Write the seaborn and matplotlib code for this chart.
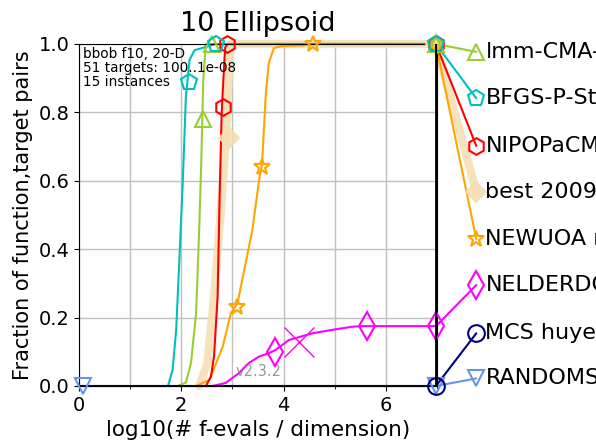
import matplotlib
matplotlib.use("Agg")
import matplotlib.pyplot as plt
import numpy as np
import pandas as pd
import seaborn as sns

sns.set_style("ticks")
plt.rcParams["font.family"] = ["DejaVu Sans"]
plt.rcParams["text.color"] = "black"
plt.rcParams["axes.labelcolor"] = "black"
plt.rcParams["xtick.color"] = "black"
plt.rcParams["ytick.color"] = "black"

# ECDF curves: log10(#f-evals / dim) vs. fraction of (function, target) pairs solved
bfgs_x = [1.74, 1.83, 1.90, 1.96, 2.03, 2.09, 2.16, 2.26, 2.45, 2.60, 2.65, 7.0]
bfgs_y = [0.0, 0.047, 0.164, 0.36, 0.60, 0.846, 0.953, 0.982, 0.99, 0.997, 1.0, 1.0]

lmm_x = [1.93, 2.09, 2.19, 2.29, 2.35, 2.39, 2.43, 2.48, 7.0]
lmm_y = [0.0, 0.01, 0.067, 0.213, 0.456, 0.65, 0.895, 1.0, 1.0]

nipo_x = [2.48, 2.58, 2.64, 2.71, 2.75, 2.79, 2.84, 2.86, 2.90, 7.0]
nipo_y = [0.0, 0.027, 0.086, 0.26, 0.553, 0.80, 0.944, 0.99, 1.0, 1.0]

best_x = [2.35, 2.51, 2.64, 2.77, 2.87, 2.94, 2.97, 7.0]
best_y = [0.0, 0.066, 0.26, 0.505, 0.72, 0.944, 1.0, 1.0]

newuoa_x = [2.29, 2.55, 2.81, 2.97, 3.10, 3.26, 3.39, 3.52, 3.58, 3.65, 3.71, 3.81, 3.97, 4.40, 4.55, 7.0]
newuoa_y = [0.0, 0.018, 0.115, 0.213, 0.242, 0.36, 0.456, 0.60, 0.65, 0.846, 0.944, 0.988, 0.994, 0.996, 1.0, 1.0]

nelder_x = [2.61, 2.87, 3.13, 3.32, 3.52, 3.71, 3.84, 4.10, 4.56, 4.95, 5.33, 5.53, 7.0]
nelder_y = [0.0, 0.009, 0.038, 0.067, 0.086, 0.096, 0.105, 0.134, 0.154, 0.164, 0.173, 0.175, 0.175]

mcs_x = [0.0, 7.0]
mcs_y = [0.0, 0.0]

rand_x = [0.0, 7.0]
rand_y = [0.0, 0.0]

# marker positions along each curve
bfgs_mx, bfgs_my = [2.16, 2.68, 6.98], [0.889, 1.0, 1.0]
lmm_mx, lmm_my = [2.42, 2.60, 6.98], [0.78, 1.0, 1.0]
nipo_mx, nipo_my = [2.81, 2.90, 6.98], [0.817, 1.0, 1.0]
best_mx, best_my = [2.94, 6.98], [0.725, 1.0]
newuoa_mx, newuoa_my = [3.08, 3.57, 4.57, 6.98], [0.232, 0.64, 1.0, 1.0]
nelder_mx, nelder_my = [3.84, 5.63, 6.98], [0.10, 0.175, 0.175]
mcs_mx, mcs_my = [6.98], [0.0]
rand_mx, rand_my = [0.08, 6.98], [0.0, 0.0]

labels = ["lmm-CMA-ES", "BFGS-P-StPt", "NIPOPaCMA", "best 2009",
          "NEWUOA ros", "NELDERDOERR", "MCS huyer", "RANDOMSEARCH"]
label_y = [0.977, 0.841, 0.702, 0.568, 0.429, 0.295, 0.154, 0.022]

curves = {
    "best 2009": (best_x, best_y, best_mx, best_my),
    "NELDERDOERR": (nelder_x, nelder_y, nelder_mx, nelder_my),
    "NEWUOA ros": (newuoa_x, newuoa_y, newuoa_mx, newuoa_my),
    "NIPOPaCMA": (nipo_x, nipo_y, nipo_mx, nipo_my),
    "lmm-CMA-ES": (lmm_x, lmm_y, lmm_mx, lmm_my),
    "BFGS-P-StPt": (bfgs_x, bfgs_y, bfgs_mx, bfgs_my),
    "RANDOMSEARCH": (rand_x, rand_y, rand_mx, rand_my),
    "MCS huyer": (mcs_x, mcs_y, mcs_mx, mcs_my),
}

style = {
    "lmm-CMA-ES": dict(color="#9acd32", marker="^", lw=1.5, ms=12, fill=False),
    "BFGS-P-StPt": dict(color="#00bfbf", marker="p", lw=1.5, ms=12, fill=False),
    "NIPOPaCMA": dict(color="red", marker="h", lw=1.5, ms=12, fill=False),
    "best 2009": dict(color="wheat", marker="D", lw=6, ms=10, fill=True),
    "NEWUOA ros": dict(color="orange", marker="*", lw=1.5, ms=12, fill=False),
    "NELDERDOERR": dict(color="magenta", marker="d", lw=1.5, ms=14, fill=False),
    "MCS huyer": dict(color="navy", marker="o", lw=1.5, ms=12, fill=False),
    "RANDOMSEARCH": dict(color="cornflowerblue", marker="v", lw=1.5, ms=12, fill=False),
}

fig = plt.figure(figsize=(5.96, 4.47), dpi=100)
ax = fig.add_axes([0.1326, 0.1365, 0.6005, 0.7651])

x_end = 6.98
x_mark = 7.77
x_text = 7.95

for name, (cx, cy, mx, my) in curves.items():
    st = style[name]
    df = pd.DataFrame({"x": cx, "y": cy})
    alpha = 0.85 if name == "best 2009" else 1.0
    sns.lineplot(data=df, x="x", y="y", ax=ax, color=st["color"], lw=st["lw"],
                 sort=False, estimator=None, alpha=alpha, clip_on=False)
    mfc = st["color"] if st["fill"] else "none"
    ax.plot(mx, my, ls="none", marker=st["marker"], ms=st["ms"], mfc=mfc,
            mec=st["color"], mew=1.5, alpha=alpha, clip_on=False, zorder=4)
    # connector from curve end to its label
    i = labels.index(name)
    ax.plot([x_end, x_mark], [cy[-1], label_y[i]], color=st["color"],
            lw=st["lw"], alpha=alpha, clip_on=False)
    ax.plot([x_mark], [label_y[i]], ls="none", marker=st["marker"], ms=st["ms"],
            mfc=mfc, mec=st["color"], mew=1.5, alpha=alpha, clip_on=False, zorder=4)
    ax.text(x_text, label_y[i], name, fontsize=16, va="center", ha="left",
            clip_on=False)

# maximal-budget cross of the Nelder-Mead run
ax.plot([4.30], [0.13], ls="none", marker="x", ms=22, mec="magenta", mew=1.0)

ax.axvline(x_end, ymin=0, ymax=1, color="black", lw=2, zorder=5)

ax.set_xlim(0, x_end)
ax.set_ylim(0, 1.0)
ax.set_xticks([0, 2, 4, 6])
ax.set_xticks([1, 3, 5, 7], minor=True)
ax.set_yticks([0.0, 0.2, 0.4, 0.6, 0.8, 1.0])
ax.tick_params(axis="both", labelsize=14)
ax.grid(True, which="both", color="#c0c0c0", lw=1)
ax.set_axisbelow(True)
for sp in ax.spines.values():
    sp.set_visible(True)
    sp.set_color("black")

ax.set_xlabel("log10(# f-evals / dimension)", fontsize=15.5)
ax.set_ylabel("Fraction of function,target pairs", fontsize=15)
ax.set_title("10 Ellipsoid", fontsize=19.5, pad=9)

ax.text(0.01, 0.99, "bbob f10, 20-D\n51 targets: 100..1e-08\n15 instances",
        transform=ax.transAxes, fontsize=9.8, va="top", ha="left", linespacing=1.0)
ax.text(3.07, 0.03, "v2.3.2", fontsize=10.5, color="gray", alpha=0.8)

fig.savefig("out.png", dpi=100)
